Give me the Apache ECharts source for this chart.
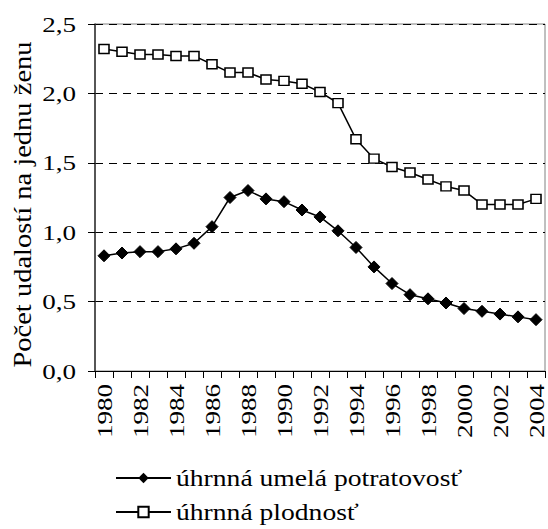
<!DOCTYPE html>
<html>
<head>
<meta charset="utf-8">
<script src="https://cdn.jsdelivr.net/npm/echarts@6/dist/echarts.min.js"></script>
<style>
  html, body { margin: 0; padding: 0; background: #fff; }
  #chart { width: 548px; height: 529px; }
</style>
</head>
<body>
<div id="chart"></div>
<script>
// Years on the category axis
const years = ['1980', '1981', '1982', '1983', '1984', '1985', '1986', '1987', '1988', '1989',
  '1990', '1991', '1992', '1993', '1994', '1995', '1996', '1997', '1998', '1999',
  '2000', '2001', '2002', '2003', '2004'];

// Total induced abortion rate (events per woman)
const abortionRate = [0.83, 0.85, 0.86, 0.86, 0.88, 0.92, 1.04, 1.25, 1.30, 1.24,
  1.22, 1.16, 1.11, 1.01, 0.89, 0.75, 0.63, 0.55, 0.52, 0.49,
  0.45, 0.43, 0.41, 0.39, 0.37];

// Total fertility rate (events per woman)
const fertilityRate = [2.32, 2.30, 2.28, 2.28, 2.27, 2.27, 2.21, 2.15, 2.15, 2.10,
  2.09, 2.07, 2.01, 1.93, 1.67, 1.53, 1.47, 1.43, 1.38, 1.33,
  1.30, 1.20, 1.20, 1.20, 1.24];

const seriesNames = ['úhrnná umelá potratovosť', 'úhrnná plodnosť'];
const yTitle = 'Počet udalostí na jednu ženu';

const FONT = 'Liberation Serif';

// Glyphs are drawn a little wider along the reading direction; factor per font size
const stretch = { 22: 1.23, 25: 1.14, 24: 1.15 };

const chart = echarts.init(document.getElementById('chart'), null, { renderer: 'svg' });

function stretchTexts() {
  document.querySelectorAll('#chart svg text').forEach(function (el) {
    const size = Math.round(parseFloat(getComputedStyle(el).fontSize));
    const f = stretch[size];
    if (!f) return;
    el.removeAttribute('textLength');
    const w = el.getComputedTextLength();
    el.setAttribute('textLength', (w * f).toFixed(1));
    el.setAttribute('lengthAdjust', 'spacingAndGlyphs');
  });
}
chart.on('finished', stretchTexts);

chart.setOption({
  animation: false,
  backgroundColor: '#fff',
  textStyle: { fontFamily: FONT, color: '#000' },
  grid: {
    left: 95, right: 3, top: 24, bottom: 158,
    show: true, borderColor: '#808080', borderWidth: 1, backgroundColor: 'transparent'
  },
  legend: {
    orient: 'vertical',
    left: 115,
    top: 466,
    padding: 0,
    itemWidth: 55,
    itemHeight: 13,
    itemGap: 10,
    textStyle: { fontFamily: FONT, fontSize: 24, color: '#000' },
    data: seriesNames
  },
  xAxis: {
    type: 'category',
    data: years,
    boundaryGap: true,
    axisLine: { lineStyle: { color: '#000', width: 1 } },
    axisTick: { show: true, interval: 0, length: 7, lineStyle: { color: '#000' } },
    axisLabel: {
      interval: 1,
      rotate: 90,
      margin: 13,
      fontFamily: FONT,
      fontSize: 22,
      color: '#000'
    },
    splitLine: { show: false }
  },
  yAxis: {
    type: 'value',
    min: 0,
    max: 2.5,
    interval: 0.5,
    name: yTitle,
    nameLocation: 'middle',
    nameRotate: 90,
    nameGap: 60,
    nameTextStyle: { fontFamily: FONT, fontSize: 25, color: '#000', padding: [0, 14, 0, 0] },
    axisLine: { show: true, lineStyle: { color: '#333', width: 1.5 } },
    axisTick: { show: true, length: 7, lineStyle: { color: '#000' } },
    axisLabel: {
      margin: 19,
      fontFamily: FONT,
      fontSize: 22,
      color: '#000',
      formatter: function (v) { return v.toFixed(1).replace('.', ','); }
    },
    splitLine: {
      show: true,
      lineStyle: { color: '#000', type: [8, 6], width: 1 }
    }
  },
  series: [
    {
      name: seriesNames[0],
      type: 'line',
      data: abortionRate,
      symbol: 'diamond',
      symbolSize: 12,
      lineStyle: { color: '#000', width: 1.5 },
      itemStyle: { color: '#000', borderColor: '#000' }
    },
    {
      name: seriesNames[1],
      type: 'line',
      data: fertilityRate,
      symbol: 'rect',
      symbolSize: [10, 9],
      lineStyle: { color: '#000', width: 1.5 },
      itemStyle: { color: '#fff', borderColor: '#000', borderWidth: 1.5 }
    }
  ]
});
setTimeout(stretchTexts, 50);
</script>
</body>
</html>
